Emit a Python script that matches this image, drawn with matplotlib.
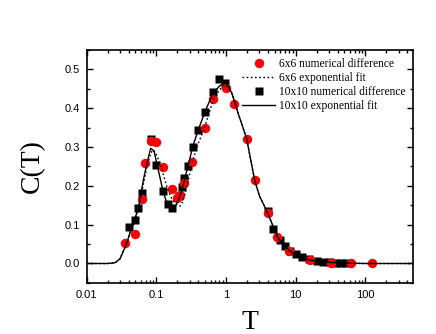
import matplotlib
matplotlib.use("Agg")
import matplotlib.pyplot as plt
from matplotlib.ticker import LogLocator, MultipleLocator, FixedFormatter, FixedLocator

# 6x6 numerical difference (red circles)
t6 = [0.0354, 0.0493, 0.062, 0.0693, 0.0828, 0.0987, 0.123, 0.166, 0.20, 0.22,
      0.247, 0.325, 0.493, 0.655, 0.986, 1.31, 1.98, 2.57, 3.99, 5.37, 7.98,
      16.0, 32.0, 63.0, 125.0]
c6 = [0.054, 0.077, 0.166, 0.259, 0.316, 0.314, 0.249, 0.192, 0.168, 0.177,
      0.208, 0.261, 0.348, 0.424, 0.452, 0.412, 0.321, 0.216, 0.129, 0.069, 0.033,
      0.010, 0.002, 0.0, 0.0]

# 10x10 numerical difference (black squares)
t10 = [0.0404, 0.0493, 0.055, 0.062, 0.0828, 0.0987, 0.123, 0.145, 0.166, 0.21,
       0.23, 0.25, 0.28, 0.332, 0.40, 0.493, 0.655, 0.798, 0.975,
       3.99, 4.75, 5.93, 7.0, 8.26, 9.97, 12.2, 15.5, 20.0, 24.6, 31.0, 37.8,
       44.5, 52.5]
c10 = [0.095, 0.112, 0.142, 0.181, 0.320, 0.255, 0.186, 0.153, 0.142, 0.175,
       0.197, 0.220, 0.250, 0.300, 0.345, 0.391, 0.443, 0.476, 0.464,
       0.136, 0.088, 0.061, 0.045, 0.033, 0.024, 0.016, 0.011, 0.007, 0.005,
       0.003, 0.002, 0.001, 0.001]

# 10x10 exponential fit (solid)
fit10_t = [0.01, 0.02, 0.0255, 0.030, 0.0374, 0.0418, 0.0466, 0.0549, 0.0649,
           0.0734, 0.0828, 0.0925, 0.102, 0.113, 0.124, 0.137, 0.155, 0.17,
           0.19, 0.21, 0.23, 0.25, 0.28, 0.30, 0.33, 0.40, 0.50, 0.60, 0.70,
           0.80, 0.94, 1.05, 1.2, 1.31, 1.5, 1.75, 1.98, 2.25, 2.57, 3.0, 3.5,
           4.0, 4.5, 5.0, 5.4, 6.0, 7.0, 8.0, 10.0, 12.0, 15.0, 20.0, 30.0,
           50.0, 100.0, 480.0]
fit10_c = [0.0, 0.0, 0.002, 0.012, 0.052, 0.080, 0.104, 0.142, 0.215, 0.260,
           0.297, 0.290, 0.255, 0.220, 0.187, 0.163, 0.145, 0.142, 0.150, 0.166,
           0.186, 0.212, 0.248, 0.268, 0.300, 0.345, 0.392, 0.425, 0.445,
           0.457, 0.465, 0.461, 0.440, 0.420, 0.385, 0.350, 0.320, 0.268, 0.215,
           0.175, 0.150, 0.128, 0.105, 0.087, 0.070, 0.058, 0.045, 0.034, 0.022,
           0.015, 0.010, 0.006, 0.003, 0.001, 0.0, 0.0]

# 6x6 exponential fit (dotted)
fit6_t = [0.01, 0.02, 0.0255, 0.030, 0.037, 0.042, 0.047, 0.055, 0.065, 0.073,
          0.083, 0.09, 0.10, 0.113, 0.125, 0.14, 0.16, 0.18, 0.20, 0.22, 0.24,
          0.27, 0.30, 0.325, 0.40, 0.49, 0.65, 0.80, 1.0, 1.2, 1.31, 1.5, 1.75,
          1.98, 2.25, 2.57, 3.0, 3.5, 4.0, 4.5, 5.0, 5.4, 6.0, 7.0, 8.0, 10.0,
          12.0, 15.0, 20.0, 30.0, 50.0, 100.0, 480.0]
fit6_c = [0.0, 0.0, 0.002, 0.012, 0.050, 0.078, 0.100, 0.138, 0.205, 0.250,
          0.285, 0.293, 0.280, 0.258, 0.230, 0.200, 0.172, 0.158, 0.150, 0.148,
          0.160, 0.195, 0.230, 0.260, 0.310, 0.350, 0.420, 0.448, 0.460, 0.440,
          0.420, 0.385, 0.350, 0.320, 0.268, 0.215, 0.175, 0.150, 0.128, 0.105,
          0.087, 0.070, 0.058, 0.045, 0.034, 0.022, 0.015, 0.010, 0.006, 0.003,
          0.001, 0.0, 0.0]

x_ticks = [0.01, 0.1, 1, 10, 100]
x_labels = ["0.01", "0.1", "1", "10", "100"]
y_ticks = [0.0, 0.1, 0.2, 0.3, 0.4, 0.5]
y_labels = ["0.0", "0.1", "0.2", "0.3", "0.4", "0.5"]

fig = plt.figure(figsize=(4.36, 3.34), dpi=100)
ax = fig.add_axes([0.199, 0.153, 0.748, 0.697])

ax.plot(t10, c10, "s", color="black", ms=5.8, mec="none", zorder=2,
        label="10x10 numerical difference")
ax.plot(t6, c6, "o", color="red", ms=6.8, mec="none", zorder=3,
        label="6x6 numerical difference")
ax.plot(fit6_t, fit6_c, color="black", lw=1.0, ls=(0, (1.2, 1.8)), zorder=4,
        label="6x6 exponential fit")
ax.plot(fit10_t, fit10_c, color="black", lw=1.0, zorder=4,
        label="10x10 exponential fit")

ax.set_xscale("log")
ax.set_xlim(0.01, 480)
ax.set_ylim(-0.05, 0.55)

ax.xaxis.set_major_locator(FixedLocator(x_ticks))
ax.xaxis.set_major_formatter(FixedFormatter(x_labels))
ax.xaxis.set_minor_locator(LogLocator(base=10, subs=range(2, 10), numticks=20))
ax.yaxis.set_major_locator(FixedLocator(y_ticks))
ax.yaxis.set_major_formatter(FixedFormatter(y_labels))
ax.yaxis.set_minor_locator(MultipleLocator(0.05))

ax.tick_params(which="both", direction="in", top=True, right=True, width=1.0)
ax.tick_params(which="major", length=4.5, labelsize=8, pad=5)
ax.tick_params(which="minor", length=2.5)
for lab in ax.get_xticklabels() + ax.get_yticklabels():
    lab.set_fontfamily("Liberation Sans")
for s in ax.spines.values():
    s.set_linewidth(1.2)

ax.set_xlabel("T", fontsize=20, family="Liberation Serif", labelpad=7)
ax.set_ylabel("C(T)", fontsize=20, family="Liberation Serif", labelpad=14)

h, l = ax.get_legend_handles_labels()
order = [1, 2, 0, 3]
ax.legend([h[i] for i in order], [l[i] for i in order], loc="upper right",
          bbox_to_anchor=(1.0, 0.995), frameon=False,
          prop={"family": "Liberation Serif", "size": 8.3},
          handlelength=2.9, handletextpad=0.35, labelspacing=0.18,
          borderaxespad=0.2)

fig.savefig("out.png", dpi=100, facecolor="white")
